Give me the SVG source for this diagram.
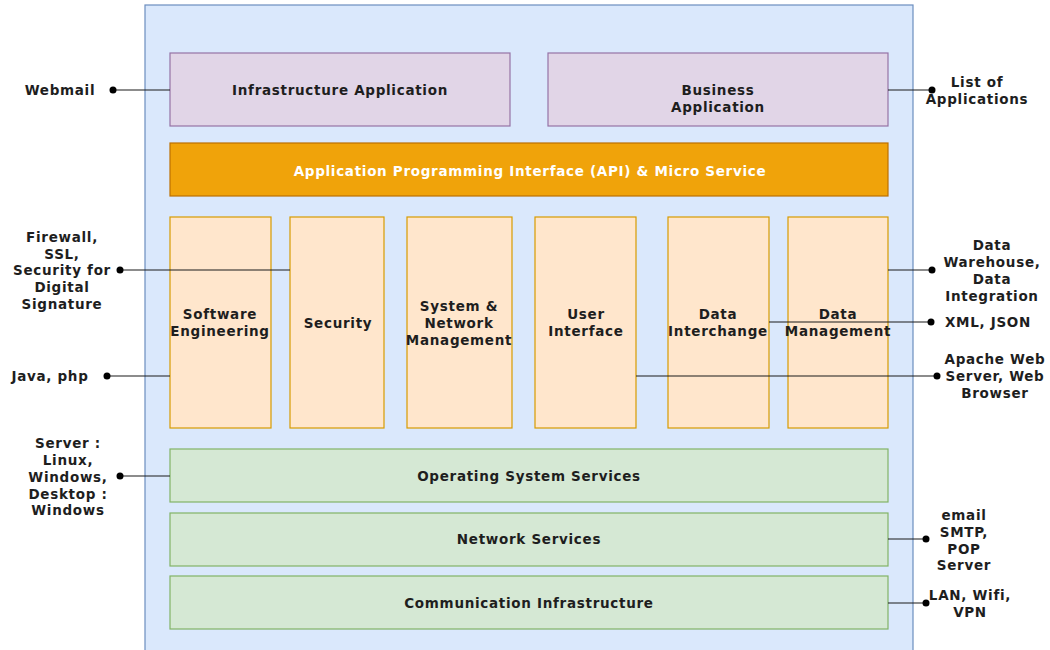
<svg xmlns="http://www.w3.org/2000/svg" width="1050" height="650" viewBox="0 0 1050 650">
  <style>
    .t { font-family: "DejaVu Sans", Verdana, sans-serif; font-size: 13.5px; font-weight: bold; letter-spacing: 0.7px; fill: #1e1e1e; text-anchor: middle; }
    .w { fill: #ffffff; }
    .purple { fill: #e1d5e7; stroke: #9673a6; stroke-width: 1.2; }
    .orange { fill: #ffe6cc; stroke: #d79b00; stroke-width: 1.2; }
    .green { fill: #d5e8d4; stroke: #82b366; stroke-width: 1.2; }
    .api { fill: #f0a30a; stroke: #bd7000; stroke-width: 1.2; }
    .link { stroke: #1a1a1a; stroke-width: 1.2; fill: none; }
    .dot { fill: #000000; }
  </style>

  <!-- outer container -->
  <g id="container">
    <rect x="145" y="5" width="768" height="650" fill="#dae8fc" stroke="#6c8ebf" stroke-width="1.2"/>
  </g>

  <g id="infrastructure-application">
    <rect class="purple" x="170" y="53" width="340" height="73"/>
    <text class="t" x="340" y="95">Infrastructure Application</text>
  </g>
  <g id="business-application">
    <rect class="purple" x="548" y="53" width="340" height="73"/>
    <text class="t" x="718" y="95">Business</text>
    <text class="t" x="718" y="112">Application</text>
  </g>

  <g id="api">
    <rect class="api" x="170" y="143" width="718" height="53"/>
    <text class="t w" x="530" y="176">Application Programming Interface (API) &amp; Micro Service</text>
  </g>

  <g id="software-engineering">
    <rect class="orange" x="170" y="217" width="101" height="211"/>
    <text class="t" x="220" y="319">Software</text>
    <text class="t" x="220" y="336">Engineering</text>
  </g>
  <g id="security">
    <rect class="orange" x="290" y="217" width="94" height="211"/>
    <text class="t" x="338" y="328">Security</text>
  </g>
  <g id="system-network-management">
    <rect class="orange" x="407" y="217" width="105" height="211"/>
    <text class="t" x="459" y="311">System &amp;</text>
    <text class="t" x="459" y="328">Network</text>
    <text class="t" x="459" y="345">Management</text>
  </g>
  <g id="user-interface">
    <rect class="orange" x="535" y="217" width="101" height="211"/>
    <text class="t" x="586" y="319">User</text>
    <text class="t" x="586" y="336">Interface</text>
  </g>
  <g id="data-interchange">
    <rect class="orange" x="668" y="217" width="101" height="211"/>
    <text class="t" x="718" y="319">Data</text>
    <text class="t" x="718" y="336">Interchange</text>
  </g>
  <g id="data-management">
    <rect class="orange" x="788" y="217" width="100" height="211"/>
    <text class="t" x="838" y="319">Data</text>
    <text class="t" x="838" y="336">Management</text>
  </g>

  <g id="operating-system-services">
    <rect class="green" x="170" y="449" width="718" height="53"/>
    <text class="t" x="529" y="481">Operating System Services</text>
  </g>
  <g id="network-services">
    <rect class="green" x="170" y="513" width="718" height="53"/>
    <text class="t" x="529" y="544">Network Services</text>
  </g>
  <g id="communication-infrastructure">
    <rect class="green" x="170" y="576" width="718" height="53"/>
    <text class="t" x="529" y="608">Communication Infrastructure</text>
  </g>

  <!-- connectors with dot ends -->
  <g id="connectors">
    <path class="link" d="M113 90 H170"/><circle class="dot" cx="113" cy="90" r="3.5"/>
    <path class="link" d="M888 90 H932"/><circle class="dot" cx="932" cy="90" r="3.5"/>
    <path class="link" d="M120 270 H290"/><circle class="dot" cx="120" cy="270" r="3.5"/>
    <path class="link" d="M107 376 H170"/><circle class="dot" cx="107" cy="376" r="3.5"/>
    <path class="link" d="M120 476 H170"/><circle class="dot" cx="120" cy="476" r="3.5"/>
    <path class="link" d="M888 270 H932"/><circle class="dot" cx="932" cy="270" r="3.5"/>
    <path class="link" d="M769 322 H931"/><circle class="dot" cx="931" cy="322" r="3.5"/>
    <path class="link" d="M636 376 H937"/><circle class="dot" cx="937" cy="376" r="3.5"/>
    <path class="link" d="M888 539 H926"/><circle class="dot" cx="926" cy="539" r="3.5"/>
    <path class="link" d="M888 603 H926"/><circle class="dot" cx="926" cy="603" r="3.5"/>
  </g>

  <!-- side labels -->
  <g id="labels">
    <text class="t" x="60" y="95">Webmail</text>
    <text class="t" x="977" y="87">List of</text>
    <text class="t" x="977" y="104">Applications</text>
    <text class="t" x="62" y="242">Firewall,</text>
    <text class="t" x="62" y="259">SSL,</text>
    <text class="t" x="62" y="275">Security for</text>
    <text class="t" x="62" y="292">Digital</text>
    <text class="t" x="62" y="309">Signature</text>
    <text class="t" x="50" y="381">Java, php</text>
    <text class="t" x="68" y="448">Server :</text>
    <text class="t" x="68" y="465">Linux,</text>
    <text class="t" x="68" y="482">Windows,</text>
    <text class="t" x="68" y="499">Desktop :</text>
    <text class="t" x="68" y="515">Windows</text>
    <text class="t" x="992" y="250">Data</text>
    <text class="t" x="992" y="267">Warehouse,</text>
    <text class="t" x="992" y="284">Data</text>
    <text class="t" x="992" y="301">Integration</text>
    <text class="t" x="988" y="327">XML, JSON</text>
    <text class="t" x="995" y="364">Apache Web</text>
    <text class="t" x="995" y="381">Server, Web</text>
    <text class="t" x="995" y="398">Browser</text>
    <text class="t" x="964" y="520">email</text>
    <text class="t" x="964" y="537">SMTP,</text>
    <text class="t" x="964" y="554">POP</text>
    <text class="t" x="964" y="570">Server</text>
    <text class="t" x="970" y="600">LAN, Wifi,</text>
    <text class="t" x="970" y="617">VPN</text>
  </g>
</svg>
